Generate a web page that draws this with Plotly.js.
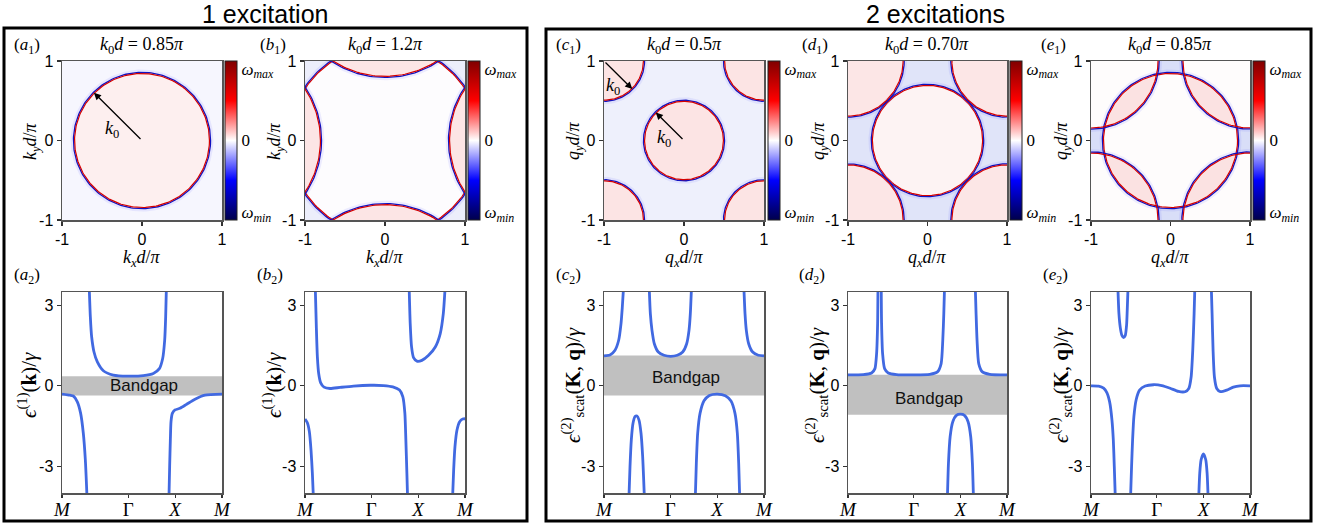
<!DOCTYPE html>
<html><head><meta charset="utf-8">
<script src="https://cdn.plot.ly/plotly-3.0.1.min.js"></script>
<style>html,body{margin:0;padding:0;background:#fff}</style>
</head><body><div id="chart" style="width:1329px;height:525px"></div>
<script>
// ================= DATA =================
// k0 d / pi of the five top panels (a1, b1, c1, d1, e1)
const k0Values = [0.85, 1.2, 0.5, 0.70, 0.85];
const topTitles = ['0.85', '1.2', '0.5', '0.70', '0.85'];
// circle centres (in units of pi/d) for each top panel
const centresA1 = [[0, 0]];
const centresB1 = [[0, 0], [2, 0], [-2, 0], [0, 2], [0, -2]];
const centresC1 = [[0, 0], [1, 1], [1, -1], [-1, 1], [-1, -1]];
const centresD1 = [[0, 0], [1, 1], [1, -1], [-1, 1], [-1, -1]];
const centresE1 = [[0, 0], [1, 1], [1, -1], [-1, 1], [-1, -1]];
const heatTicks = [-1, 0, 1];
const heatTickText = ['-1', '0', '1'];
const cbarTickVals = [0.9, 0, -0.9];

// path M - Gamma - X - M
const pathTicks = [0, 1.414, 2.414, 3.414];
const pathLabels = ['<i>M</i>', 'Γ', '<i>X</i>', '<i>M</i>'];
const energyTicks = [-3, 0, 3];
const energyTickText = ['-3', '0', '3'];

// bandgaps [bottom, top] (in units of gamma)
const gapA2 = [-0.36, 0.36];
const gapC2 = [-0.36, 1.13];
const gapD2 = [-1.08, 0.41];

// ---- (a2) 1 excitation, k0 d = 0.85 pi ----
const a2_s1 = [0, 0.171, 0.242, 0.327, 0.398, 0.455, 0.498, 0.533];
const a2_e1 = [-0.31, -0.35, -0.38, -0.60, -1.03, -1.77, -2.76, -4.13];
const a2_s2 = [0.583, 0.605, 0.633, 0.683, 0.754, 0.882, 1.095, 1.401, 1.736, 1.949, 2.077, 2.148, 2.191, 2.212, 2.226];
const a2_e2 = [3.56, 2.57, 1.82, 1.26, 0.89, 0.56, 0.40, 0.36, 0.38, 0.46, 0.64, 1.02, 1.70, 2.57, 3.56];
const a2_s3 = [2.283, 2.297, 2.312, 2.326, 2.354, 2.411, 2.518, 2.660, 2.838, 3.051, 3.414];
const a2_e3 = [-4.13, -3.01, -2.02, -1.34, -1.03, -0.90, -0.84, -0.69, -0.50, -0.35, -0.31];

// ---- (b2) 1 excitation, k0 d = 1.2 pi ----
const b2_s1 = [0, 0.050, 0.093, 0.128, 0.157, 0.178];
const b2_e1 = [-1.24, -1.38, -1.71, -2.39, -3.26, -4.13];
const b2_s2 = [0.221, 0.242, 0.264, 0.292, 0.335, 0.406, 0.535, 0.748, 1.033, 1.390, 1.675, 1.874, 2.017, 2.088, 2.131, 2.152, 2.174, 2.188];
const b2_e2 = [3.56, 2.19, 1.08, 0.46, 0.11, -0.05, -0.10, -0.06, -0.01, 0.02, 0.01, -0.04, -0.16, -0.41, -1.03, -2.02, -3.26, -4.13];
const b2_s3 = [2.224, 2.245, 2.274, 2.316, 2.388, 2.494, 2.637, 2.780, 2.886, 2.951, 2.986];
const b2_e3 = [3.56, 2.32, 1.45, 1.05, 0.92, 0.95, 1.14, 1.45, 1.95, 2.69, 3.56];
const b2_s4 = [3.150, 3.172, 3.200, 3.243, 3.300, 3.364, 3.414];
const b2_e4 = [-4.13, -3.14, -2.27, -1.65, -1.34, -1.24, -1.23];

// ---- (c2) 2 excitations, k0 d = 0.5 pi ----
const c2_s1 = [0, 0.128, 0.235, 0.313, 0.363, 0.391, 0.413];
const c2_e1 = [1.12, 1.15, 1.33, 1.70, 2.32, 2.94, 3.56];
const c2_s2 = [0.967, 0.989, 1.024, 1.074, 1.159, 1.280, 1.423, 1.565, 1.679, 1.764, 1.814, 1.842, 1.864];
const c2_e2 = [3.56, 2.69, 2.07, 1.57, 1.26, 1.14, 1.10, 1.14, 1.26, 1.57, 2.07, 2.69, 3.56];
const c2_s3 = [2.987, 3.009, 3.037, 3.087, 3.172, 3.293, 3.414];
const c2_e3 = [3.56, 2.69, 2.07, 1.57, 1.26, 1.14, 1.12];
const c2_s4 = [0.533, 0.555, 0.583, 0.619, 0.662, 0.704, 0.747, 0.790, 0.825, 0.861];
const c2_e4 = [-4.13, -3.01, -2.02, -1.40, -1.15, -1.13, -1.28, -1.77, -2.64, -4.13];
const c2_s5 = [1.949, 1.970, 1.999, 2.049, 2.134, 2.248, 2.418, 2.589, 2.710, 2.795, 2.845, 2.874, 2.895];
const c2_e5 = [-4.13, -2.89, -1.77, -1.03, -0.56, -0.36, -0.31, -0.37, -0.57, -1.03, -1.77, -2.89, -4.13];

// ---- (d2) 2 excitations, k0 d = 0.70 pi ----
const d2_s1 = [0, 0.329, 0.507, 0.578, 0.614, 0.636, 0.643];
const d2_e1 = [0.41, 0.42, 0.48, 0.64, 1.20, 2.32, 3.56];
const d2_s2 = [0.714, 0.721, 0.743, 0.786, 0.864, 1.043, 1.414, 1.757, 1.921, 2.000, 2.035, 2.057, 2.071];
const d2_e2 = [3.56, 2.32, 1.20, 0.64, 0.48, 0.42, 0.41, 0.43, 0.52, 0.83, 1.70, 2.69, 3.56];
const d2_s3 = [2.735, 2.750, 2.771, 2.807, 2.885, 3.043, 3.414];
const d2_e3 = [3.56, 2.69, 1.70, 0.83, 0.52, 0.43, 0.41];
const d2_s4 = [2.135, 2.157, 2.193, 2.250, 2.328, 2.414, 2.500, 2.578, 2.635, 2.671, 2.693];
const d2_e4 = [-4.13, -2.89, -1.90, -1.34, -1.10, -1.06, -1.10, -1.34, -1.90, -2.89, -4.13];

// ---- (e2) 2 excitations, k0 d = 0.85 pi ----
const e2_s1 = [0, 0.164, 0.271, 0.343, 0.400, 0.450, 0.479, 0.500, 0.521];
const e2_e1 = [0, -0.01, -0.09, -0.26, -0.60, -1.28, -2.02, -3.01, -4.13];
const e2_s2 = [0.579, 0.600, 0.629, 0.664, 0.700, 0.736, 0.764, 0.778, 0.793];
const e2_e2 = [3.56, 2.69, 2.17, 1.88, 1.80, 1.88, 2.26, 2.81, 3.56];
const e2_s3 = [0.850, 0.871, 0.893, 0.921, 0.971, 1.043, 1.164, 1.343, 1.521, 1.700, 1.878, 2.021, 2.100, 2.150, 2.185, 2.214, 2.228];
const e2_e3 = [-4.13, -3.01, -2.02, -1.15, -0.51, -0.16, -0.01, 0.04, 0.01, -0.09, -0.21, -0.22, -0.10, 0.33, 1.33, 2.69, 3.56];
const e2_s4 = [2.585, 2.600, 2.621, 2.650, 2.700, 2.778, 2.914, 3.057, 3.200, 3.414];
const e2_e4 = [3.56, 2.69, 1.33, 0.33, -0.10, -0.22, -0.16, -0.05, 0, 0];
const e2_s5 = [2.314, 2.335, 2.364, 2.414, 2.464, 2.493, 2.514];
const e2_e5 = [-4.13, -3.26, -2.76, -2.54, -2.76, -3.26, -4.13];

// ================= LAYOUT HELPERS =================
const W = 1329, H = 525;
const SERIF = 'Liberation Serif, DejaVu Serif, serif';
const SANS = 'Liberation Sans, Arial, Helvetica, sans-serif';
const xd = (a, b) => [a / W, b / W];
const yd = (a, b) => [1 - b / H, 1 - a / H];
const px = v => v / W;
const py = v => 1 - v / H;
const XA = n => 'x' + (n === 1 ? '' : n);
const YA = n => 'y' + (n === 1 ? '' : n);

const colX = [[62, 222], [305, 465], [604, 764], [848, 1007], [1091, 1250]];
const topY = [61, 220], botY = [292, 493];
const cbarX = [225, 468, 768, 1010, 1253];

const traces = [];
const shapes = [];
const annotations = [];
const layout = {
  width: W, height: H, autosize: false,
  margin: {l: 0, r: 0, t: 0, b: 0},
  paper_bgcolor: '#ffffff', plot_bgcolor: 'rgba(0,0,0,0)',
  showlegend: false, hovermode: false,
  font: {family: SANS, color: '#000'}
};

function axisBase() {
  return {showline: true, mirror: true, linecolor: '#555', linewidth: 1.5,
    showgrid: false, zeroline: false, ticks: 'outside', ticklen: 4, tickwidth: 1.2,
    tickcolor: '#333', fixedrange: true};
}

function circlePts(c, r, n) {
  const x = [], y = [];
  for (let i = 0; i <= n; i++) {
    const t = 2 * Math.PI * i / n;
    x.push(c[0] + r * Math.cos(t)); y.push(c[1] + r * Math.sin(t));
  }
  return {x, y};
}
// lens = intersection of two equal-radius circles
function lensPts(cA, cB, r, n) {
  const x = [], y = [];
  const arc = (c1, c2) => {
    const phi = Math.atan2(c2[1] - c1[1], c2[0] - c1[0]);
    for (let i = 0; i <= n; i++) {
      const t = phi - Math.PI + 2 * Math.PI * i / n;
      const X = c1[0] + r * Math.cos(t), Y = c1[1] + r * Math.sin(t);
      if (Math.hypot(X - c2[0], Y - c2[1]) <= r) { x.push(X); y.push(Y); }
    }
  };
  arc(cA, cB); arc(cB, cA);
  x.push(x[0]); y.push(y[0]);
  return {x, y};
}

function fillTrace(p, color, ax) {
  traces.push({type: 'scatter', mode: 'lines', x: p.x, y: p.y, fill: 'toself',
    fillcolor: color, line: {width: 0, color: color}, xaxis: XA(ax), yaxis: YA(ax),
    hoverinfo: 'skip'});
}
function ringTraces(c, r, ax) {
  const g = circlePts(c, r + 0.024, 240);
  traces.push({type: 'scatter', mode: 'lines', x: g.x, y: g.y,
    line: {width: 3, color: 'rgba(70,70,255,0.09)'}, xaxis: XA(ax), yaxis: YA(ax), hoverinfo: 'skip'});
  const b = circlePts(c, r + 0.007, 240);
  traces.push({type: 'scatter', mode: 'lines', x: b.x, y: b.y,
    line: {width: 1.3, color: '#1212c0'}, xaxis: XA(ax), yaxis: YA(ax), hoverinfo: 'skip'});
  const rr = circlePts(c, r - 0.007, 240);
  traces.push({type: 'scatter', mode: 'lines', x: rr.x, y: rr.y,
    line: {width: 1.2, color: '#d40000'}, xaxis: XA(ax), yaxis: YA(ax), hoverinfo: 'skip'});
}
function bgRect(ax, color) {
  shapes.push({type: 'rect', xref: XA(ax), yref: YA(ax), x0: -1, x1: 1, y0: -1, y1: 1,
    fillcolor: color, line: {width: 0}, layer: 'below'});
}

// ================= TOP PANELS (heat-map style) =================
const seismic = [[0, 'rgb(0,0,76)'], [0.25, 'rgb(0,0,255)'], [0.5, 'rgb(255,255,255)'],
                 [0.75, 'rgb(255,0,0)'], [1, 'rgb(128,0,0)']];
const topLetters = ['a', 'b', 'c', 'd', 'e'];

for (let i = 0; i < 5; i++) {
  const ax = i + 1;
  const xa = axisBase(), ya = axisBase();
  Object.assign(xa, {domain: xd(colX[i][0], colX[i][1]), range: [-1, 1], tickvals: heatTicks,
    ticktext: heatTickText, tickfont: {family: SANS, size: 16}, anchor: YA(ax)});
  Object.assign(ya, {domain: yd(topY[0], topY[1]), range: [-1, 1], tickvals: heatTicks,
    ticktext: heatTickText, tickfont: {family: SANS, size: 16}, anchor: XA(ax)});
  layout['xaxis' + (ax === 1 ? '' : ax)] = xa; layout['yaxis' + (ax === 1 ? '' : ax)] = ya;
}

// (a1)
bgRect(1, '#f6f6fe');
fillTrace(circlePts(centresA1[0], k0Values[0], 240), '#fdefef', 1);
centresA1.forEach(c => ringTraces(c, k0Values[0], 1));
// (b1)
bgRect(2, '#eceefb');
fillTrace(circlePts(centresB1[0], k0Values[1], 240), '#fdfcfe', 2);
centresB1.slice(1).forEach(c => fillTrace(circlePts(c, k0Values[1], 240), '#fce5e5', 2));
centresB1.forEach(c => ringTraces(c, k0Values[1], 2));
// (c1)
bgRect(3, '#eef0fc');
centresC1.forEach(c => fillTrace(circlePts(c, k0Values[2], 240), '#fce4e4', 3));
centresC1.forEach(c => ringTraces(c, k0Values[2], 3));
// (d1)
bgRect(4, '#e0e4f9');
fillTrace(circlePts(centresD1[0], k0Values[3], 240), '#fdf3f3', 4);
centresD1.slice(1).forEach(c => fillTrace(circlePts(c, k0Values[3], 240), '#fce6e6', 4));
centresD1.forEach(c => ringTraces(c, k0Values[3], 4));
// (e1)
bgRect(5, '#d9def8');
centresE1.forEach(c => fillTrace(circlePts(c, k0Values[4], 240), '#fefcfc', 5));
centresE1.slice(1).forEach(c => fillTrace(lensPts(centresE1[0], c, k0Values[4], 600), '#fbe2e2', 5));
centresE1.forEach(c => ringTraces(c, k0Values[4], 5));

// colour bars
for (let i = 0; i < 5; i++) {
  const ax = i + 1;
  traces.push({type: 'scatter', mode: 'markers', x: [5], y: [5], xaxis: XA(ax), yaxis: YA(ax),
    hoverinfo: 'skip', cliponaxis: true,
    marker: {size: 1, opacity: 0, color: [0], cmin: -1, cmax: 1, colorscale: seismic, showscale: true,
      colorbar: {x: px(cbarX[i]), xanchor: 'left', y: py((topY[0] + topY[1]) / 2), yanchor: 'middle',
        len: (topY[1] - topY[0]) / H, lenmode: 'fraction', thickness: 12, thicknessmode: 'pixels',
        xpad: 0, ypad: 0, outlinewidth: 1, outlinecolor: '#222', ticks: '',
        tickvals: cbarTickVals, ticktext: ['<i>ω<sub>max</sub></i>', '0', '<i>ω<sub>min</sub></i>'],
        tickfont: {family: SERIF, size: 17, color: '#000'}}}});
}

// top annotations
const topTitleX = [142, 385, 684, 927, 1170];
const topLabelX = [27, 273, 568, 815, 1053];
const ytitleTopX = [31, 275, 574, 819, 1062];
for (let i = 0; i < 5; i++) {
  const q = i < 2 ? 'k' : 'q';
  annotations.push({xref: 'paper', yref: 'paper', x: px(topTitleX[i]), y: py(46), xanchor: 'center', yanchor: 'middle',
    showarrow: false, text: '<i>k</i><sub>0</sub><i>d</i> = ' + topTitles[i] + '<i>π</i>',
    font: {family: SERIF, size: 18}});
  annotations.push({xref: 'paper', yref: 'paper', x: px(topLabelX[i]), y: py(46), xanchor: 'center', yanchor: 'middle',
    showarrow: false, text: '(<i>' + topLetters[i] + '</i><sub>1</sub>)', font: {family: SERIF, size: 17}});
  annotations.push({xref: 'paper', yref: 'paper', x: px((colX[i][0] + colX[i][1]) / 2), y: py(258),
    xanchor: 'center', yanchor: 'middle', showarrow: false,
    text: '<i>' + q + '<sub>x</sub>d</i>/<i>π</i>', font: {family: SERIF, size: 18}});
  annotations.push({xref: 'paper', yref: 'paper', x: px(ytitleTopX[i]), y: py(141),
    xanchor: 'center', yanchor: 'middle', showarrow: false, textangle: -90,
    text: '<i>' + q + '<sub>y</sub>d</i>/<i>π</i>', font: {family: SERIF, size: 18}});
}

// k0 arrows
function arrow(ax, hx, hy, tx, ty) {
  annotations.push({xref: XA(ax), yref: YA(ax), axref: XA(ax), ayref: YA(ax),
    x: hx, y: hy, ax: tx, ay: ty, text: '', showarrow: true, arrowhead: 2, arrowsize: 1.1,
    arrowwidth: 1.3, arrowcolor: '#000'});
}
function k0Label(ax, x, y) {
  annotations.push({xref: XA(ax), yref: YA(ax), x: x, y: y, showarrow: false,
    text: '<i>k</i><sub>0</sub>', font: {family: SERIF, size: 18}});
}
const a1r = k0Values[0] / Math.SQRT2, c1r = k0Values[2] / Math.SQRT2;
arrow(1, -a1r, a1r, 0, 0); k0Label(1, -0.37, 0.14);
arrow(3, -c1r, c1r, 0, 0); k0Label(3, -0.25, 0.02);
arrow(3, -1 + c1r, 1 - c1r, -1, 1); k0Label(3, -0.89, 0.68);

// ================= BOTTOM PANELS (dispersion) =================
const botSeries = [
  [[a2_s1, a2_e1], [a2_s2, a2_e2], [a2_s3, a2_e3]],
  [[b2_s1, b2_e1], [b2_s2, b2_e2], [b2_s3, b2_e3], [b2_s4, b2_e4]],
  [[c2_s1, c2_e1], [c2_s2, c2_e2], [c2_s3, c2_e3], [c2_s4, c2_e4], [c2_s5, c2_e5]],
  [[d2_s1, d2_e1], [d2_s2, d2_e2], [d2_s3, d2_e3], [d2_s4, d2_e4]],
  [[e2_s1, e2_e1], [e2_s2, e2_e2], [e2_s3, e2_e3], [e2_s4, e2_e4], [e2_s5, e2_e5]]
];
const gaps = [gapA2, null, gapC2, gapD2, null];
const gapTextPos = [[1.74, 0.0], null, [1.75, 0.31], [1.74, -0.47], null];
const botLabelX = [27, 270, 568, 812, 1055];
const ytitleBotX = [27, 272, 572, 816, 1060];

for (let i = 0; i < 5; i++) {
  const ax = i + 6;
  const xa = axisBase(), ya = axisBase();
  Object.assign(xa, {domain: xd(colX[i][0], colX[i][1]), range: [0, 3.414], tickvals: pathTicks,
    ticktext: pathLabels, tickfont: {family: SERIF, size: 19}, ticklen: 3, ticklabelstandoff: -4,
    anchor: YA(ax)});
  Object.assign(ya, {domain: yd(botY[0], botY[1]), range: [-4, 3.5], tickvals: energyTicks,
    ticktext: energyTickText, tickfont: {family: SANS, size: 16}, anchor: XA(ax)});
  layout['xaxis' + ax] = xa; layout['yaxis' + ax] = ya;
  if (gaps[i]) {
    shapes.push({type: 'rect', xref: XA(ax), yref: YA(ax), x0: 0, x1: 3.414,
      y0: gaps[i][0], y1: gaps[i][1], fillcolor: '#c0c0c0', line: {width: 0}, layer: 'below'});
    annotations.push({xref: XA(ax), yref: YA(ax), x: gapTextPos[i][0], y: gapTextPos[i][1],
      showarrow: false, text: 'Bandgap', font: {family: SANS, size: 17, color: '#111'}});
  }
  botSeries[i].forEach(b => {
    traces.push({type: 'scatter', mode: 'lines', x: b[0], y: b[1], xaxis: XA(ax), yaxis: YA(ax),
      line: {color: '#4169e1', width: 2.8, shape: 'spline', smoothing: 0.6}, hoverinfo: 'skip'});
  });
  annotations.push({xref: 'paper', yref: 'paper', x: px(botLabelX[i]), y: py(276), xanchor: 'center', yanchor: 'middle',
    showarrow: false, text: '(<i>' + topLetters[i] + '</i><sub>2</sub>)', font: {family: SERIF, size: 17}});
  const yt = i < 2 ? '<i>ϵ</i><sup>(1)</sup>(<b>k</b>)/<i>γ</i>'
                   : '<i>ϵ</i><sup>(2)</sup><sub>scat</sub>(<b>K</b>, <b>q</b>)/<i>γ</i>';
  annotations.push({xref: 'paper', yref: 'paper', x: px(ytitleBotX[i]), y: py(385),
    xanchor: 'center', yanchor: 'middle', showarrow: false, textangle: -90,
    text: yt, font: {family: SERIF, size: 21}});
}

// frames and group titles
shapes.push({type: 'rect', xref: 'paper', yref: 'paper', x0: px(4), x1: px(527), y0: py(521), y1: py(28),
  line: {width: 3, color: '#000'}, fillcolor: 'rgba(0,0,0,0)'});
shapes.push({type: 'rect', xref: 'paper', yref: 'paper', x0: px(546), x1: px(1311), y0: py(521), y1: py(29),
  line: {width: 3, color: '#000'}, fillcolor: 'rgba(0,0,0,0)'});
annotations.push({xref: 'paper', yref: 'paper', x: px(265), y: py(14), xanchor: 'center', yanchor: 'middle',
  showarrow: false, text: '1 excitation', font: {family: SANS, size: 25}});
annotations.push({xref: 'paper', yref: 'paper', x: px(935), y: py(14), xanchor: 'center', yanchor: 'middle',
  showarrow: false, text: '2 excitations', font: {family: SANS, size: 25}});

layout.shapes = shapes;
layout.annotations = annotations;
Plotly.newPlot('chart', traces, layout, {staticPlot: true, displayModeBar: false});
</script>
</body></html>
